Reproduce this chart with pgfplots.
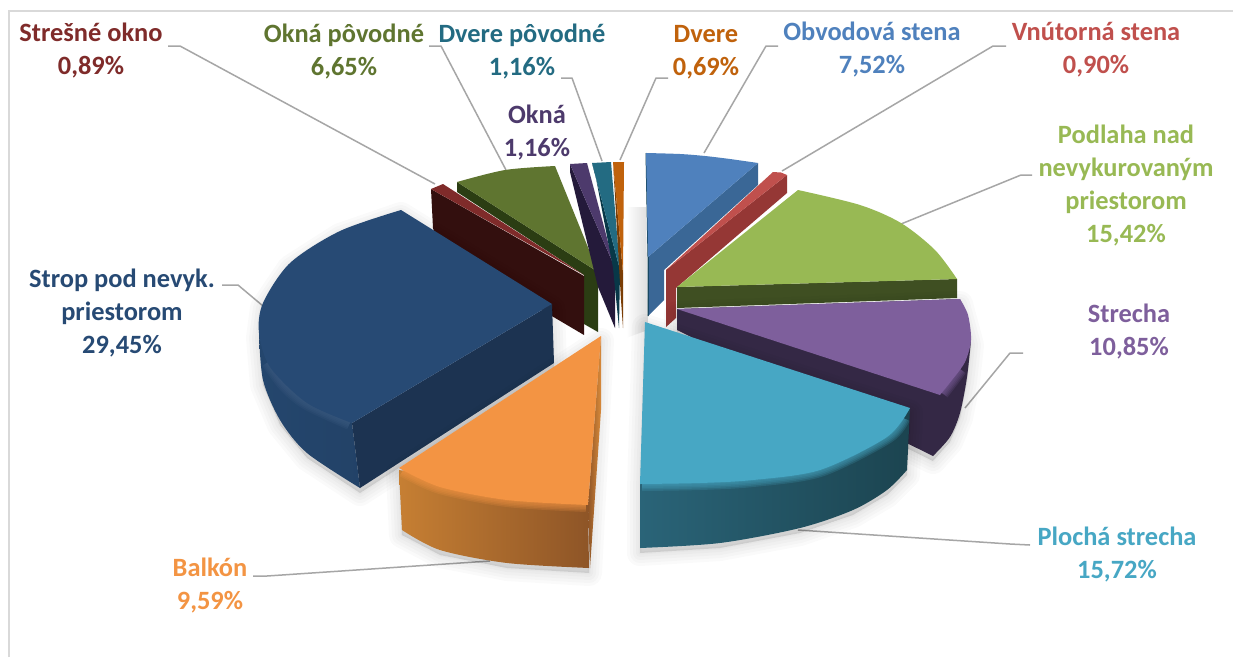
\documentclass[border=0pt]{standalone}
\usepackage{pgfplots}
\usepackage{pgfplotstable}
\usepackage{fontspec}
\setmainfont{Carlito}
\pgfplotsset{compat=1.18}

% outer edges of the larger sectors
\pgfplotstableread{
x y
401 210
340 231
290 263
263 303
259 333
270 367
307 403
352 423
}\navyTop
\pgfplotstableread{
x y
259 333
263 380
280 420
307 453
360 488
}\navyLow
\pgfplotstableread{
x y
399 468
440 487
507 500
588 505
}\orangeTop
\pgfplotstableread{
x y
402 530
440 550
507 563
589 568
}\orangeLow
\pgfplotstableread{
x y
640 484
700 483
753 480
820 470
887 437
910 408
}\tealTop
\pgfplotstableread{
x y
640 548
720 543
800 528
853 510
887 490
907 470
}\tealLow
\pgfplotstableread{
x y
960 299
968 315
971 340
965 362
952 380
940 395
}\purpleTop
\pgfplotstableread{
x y
971 340
967 377
960 413
950 437
933 456
}\purpleLow
\pgfplotstableread{
x y
798 190
860 205
901 223
935 250
957 279
}\greenTop
\pgfplotstableread{
x y
646 153
680 154
705 156
730 159
758 163
}\blueTop
\pgfplotstableread{
x y
457 182
505 170
555 166
}\oliveTop

% bevelled parts of the rims
\pgfplotstableread{
x y
268 362
285 385
307 403
350 423
}\navyRim
\pgfplotstableread{
x y
403 470
440 487
507 500
586 505
}\orangeRim
\pgfplotstableread{
x y
642 484
700 483
753 480
820 470
887 437
903 418
}\tealRim
\pgfplotstableread{
x y
960 369
952 380
942 393
}\purpleRim

% outlines used for the soft shadows
\pgfplotstableread{
x y
401 210
340 231
290 263
263 303
259 333
263 380
280 420
307 453
360 488
554 363
552 304
}\navyShade
\pgfplotstableread{
x y
601 336
399 468
402 530
440 550
507 563
589 568
}\orangeShade
\pgfplotstableread{
x y
645 322
640 484
640 548
720 543
800 528
853 510
887 490
907 470
910 408
}\tealShade
\pgfplotstableread{
x y
677 309
960 299
971 340
967 377
960 413
950 437
933 456
677 330
}\purpleShade

\definecolor{leader}{HTML}{A6A6A6}
\definecolor{frameline}{HTML}{D9D9D9}
\definecolor{navyT}{HTML}{274A74}
\definecolor{navyS}{HTML}{1C3351}
\definecolor{navyB}{HTML}{24466D}
\definecolor{orangeT}{HTML}{F39443}
\definecolor{orangeA}{HTML}{C67F33}
\definecolor{orangeB}{HTML}{8E5527}
\definecolor{orangeC}{HTML}{D98A3A}
\definecolor{tealT}{HTML}{47A7C4}
\definecolor{tealS}{HTML}{1E4A57}
\definecolor{tealA}{HTML}{2A6478}
\definecolor{purpleT}{HTML}{7E5F9C}
\definecolor{purpleS}{HTML}{342845}
\definecolor{greenT}{HTML}{98B954}
\definecolor{greenS}{HTML}{3F4F22}
\definecolor{blueT}{HTML}{4F81BD}
\definecolor{blueS}{HTML}{3A6796}
\definecolor{redT}{HTML}{C0504D}
\definecolor{redS}{HTML}{953735}
\definecolor{maroonT}{HTML}{7F2B2A}
\definecolor{maroonS}{HTML}{330F0E}
\definecolor{oliveT}{HTML}{5F7530}
\definecolor{oliveS}{HTML}{2B3D13}
\definecolor{plumT}{HTML}{4D3A6C}
\definecolor{plumS}{HTML}{241A3A}
\definecolor{petrolT}{HTML}{236B82}
\definecolor{petrolS}{HTML}{083848}
\definecolor{rustT}{HTML}{C0620C}
\definecolor{rustS}{HTML}{7A3D05}

\newcommand{\softshadow}[1]{%
  \pgfplotsinvokeforeach{26,20,14,8,3}{%
    \addplot[draw=black, fill=black, opacity=0.02, line width=##1pt, line join=round]
      table[x=x, y expr=\thisrow{y}+5] {#1} -- cycle;
  }%
}
\newcommand{\rim}[2]{%
  \pgfplotsinvokeforeach{14,11,8,5,2}{%
    \addplot[smooth, draw=#1, opacity=0.2, line width=##1pt] table {#2};
  }%
}
\newcommand{\leaderline}[1]{%
  \addplot[draw=leader, line width=1.5pt, line join=round] coordinates {#1};
}
\newcommand{\lab}[4]{%
  \node[text=#1, align=center, inner sep=0pt, font=\fontsize{26.4}{33}\selectfont\bfseries]
    at (axis cs:#2,#3) {#4};
}

\begin{document}
\begin{tikzpicture}
\begin{axis}[
  scale only axis, width=1233pt, height=657pt,
  xmin=0, xmax=1233, ymin=0, ymax=657, y dir=reverse,
  hide axis,
]
% white ground over the whole chart area
\addplot[fill=white, draw=none] coordinates {(0,0) (1233,0) (1233,657) (0,657)} -- cycle;
% frame of the chart area
\addplot[draw=frameline, line width=2pt] coordinates {(9,657) (9,11) (1233,11)};

% faint shadow behind the centre
\addplot[left color=white, right color=black!13, draw=none]
  coordinates {(626,207) (646,207) (648,330) (626,338)} -- cycle;

% leader lines
\leaderline{(168,46) (180,46) (435,184)}
\leaderline{(429,46) (441,46) (506,170)}
\leaderline{(561,78) (572,78) (602,161)}
\leaderline{(668,78) (656,78) (620,160)}
\leaderline{(778,46) (766,46) (704,153)}
\leaderline{(1006,46) (993,46) (782,171)}
\leaderline{(1032,175) (1021,175) (901,224)}
\leaderline{(1023,353) (1010,353) (965,408)}
\leaderline{(1030,545) (1010,544) (798,530)}
\leaderline{(253,576) (267,576) (490,561)}
\leaderline{(222,285) (238,285) (263,306)}

% Okná pôvodné
\addplot[fill=oliveS, draw=none] coordinates {(457,182) (598,272) (598,332) (584,324) (584,275) (457,192)} -- cycle;
\addplot[smooth, fill=oliveT, draw=none] table {\oliveTop} -- (axis cs:598,272) -- cycle;
% Strešné okno
\addplot[fill=maroonS, draw=none] coordinates {(431,189) (584,276) (584,335) (440,250) (433,228)} -- cycle;
\addplot[fill=maroonT, draw=none] coordinates {(431,189) (443,184) (584,275)} -- cycle;
% Okná
\addplot[fill=plumS, draw=none] coordinates {(570,164) (615,268) (615,328) (598,287) (570,172)} -- cycle;
\addplot[fill=plumT, draw=none] coordinates {(570,164) (587,163) (615,268)} -- cycle;
% Dvere pôvodné
\addplot[fill=petrolS, draw=none] coordinates {(592,163) (620,270) (619,328) (613,268) (595,173)} -- cycle;
\addplot[fill=petrolT, draw=none] coordinates {(592,163) (611,162) (620,270)} -- cycle;
% Dvere
\addplot[fill=rustS, draw=none] coordinates {(613,162) (623,273) (623,328) (621,300)} -- cycle;
\addplot[fill=rustT, draw=none] coordinates {(613,162) (624,162) (623,273)} -- cycle;

% Strop pod nevyk. priestorom
\softshadow{\navyShade}
\addplot[smooth, left color=navyB, right color=navyB!80!navyS, draw=none]
  table {\navyLow} -- (axis cs:352,423) -- (axis cs:300,300) -- cycle;
\addplot[fill=navyS, draw=none] coordinates {(352,423) (552,304) (554,363) (360,488)} -- cycle;
\rim{navyT!90!white}{\navyRim}
\addplot[smooth, fill=navyT, draw=none] table {\navyTop} -- (axis cs:552,304) -- cycle;

% Balkón
\softshadow{\orangeShade}
\addplot[smooth, left color=orangeA, right color=orangeB, draw=none]
  table {\orangeLow} -- (axis cs:588,505) -- (axis cs:399,470) -- cycle;
\addplot[left color=orangeB, right color=orangeC, draw=none]
  coordinates {(601,336) (601,410) (590,568) (588,505)} -- cycle;
\rim{orangeT}{\orangeRim}
\addplot[smooth, fill=orangeT, draw=none] table {\orangeTop} -- (axis cs:601,336) -- cycle;

% Obvodová stena
\addplot[fill=blueS, draw=none] coordinates {(758,163) (758,185) (664,270) (664,300) (648,316) (648,257)} -- cycle;
\addplot[draw=petrolS, line width=1pt] coordinates {(646,153) (648,257) (648,316)};
\addplot[smooth, fill=blueT, draw=none] table {\blueTop} -- (axis cs:648,257) -- cycle;

% Vnútorná stena
\addplot[fill=redS, draw=none] coordinates {(787,175) (787,193) (676,288) (676,318) (666,327) (666,270)} -- cycle;
\addplot[fill=redT, draw=none] coordinates {(773,172) (781,172.5) (787,175) (666,270)} -- cycle;

% Podlaha nad nevykurovaným priestorom
\addplot[fill=greenS, draw=none] coordinates {(677,287) (957,279) (957,298) (677,308)} -- cycle;
\addplot[smooth, fill=greenT, draw=none] table {\greenTop} -- (axis cs:677,287) -- cycle;

% Strecha
\softshadow{\purpleShade}
\addplot[smooth, fill=purpleS, draw=none]
  table {\purpleLow} -- (axis cs:677,330) -- (axis cs:677,309) -- (axis cs:960,299) -- cycle;
\rim{purpleT}{\purpleRim}
\addplot[smooth, fill=purpleT, draw=none] table {\purpleTop} -- (axis cs:677,309) -- cycle;

% Plochá strecha
\softshadow{\tealShade}
\addplot[smooth, left color=tealA, middle color=tealS, right color=tealS!92!black, draw=none]
  table {\tealLow} -- (axis cs:910,408) -- (axis cs:640,484) -- cycle;
\rim{tealT}{\tealRim}
\addplot[smooth, fill=tealT, draw=none] table {\tealTop} -- (axis cs:645,322) -- cycle;

% sector labels
\lab{maroonT}{91}{51}{Strešné okno\\0,89\%}
\lab{oliveT}{344}{52}{Okná pôvodné\\6,65\%}
\lab{petrolT}{522}{52}{Dvere pôvodné\\1,16\%}
\lab{plumT}{537}{133}{Okná\\1,16\%}
\lab{rustT}{706}{52}{Dvere\\0,69\%}
\lab{blueT}{872}{50}{Obvodová stena\\7,52\%}
\lab{redT}{1096}{50}{Vnútorná stena\\0,90\%}
\lab{greenT}{1126}{186}{Podlaha nad\\nevykurovaným\\priestorom\\15,42\%}
\lab{purpleT}{1129}{332}{Strecha\\10,85\%}
\lab{tealT}{1117}{555}{Plochá strecha\\15,72\%}
\lab{orangeT}{210}{586}{Balkón\\9,59\%}
\lab{navyT}{122}{313}{Strop pod nevyk.\\priestorom\\29,45\%}
\end{axis}
\end{tikzpicture}
\end{document}
